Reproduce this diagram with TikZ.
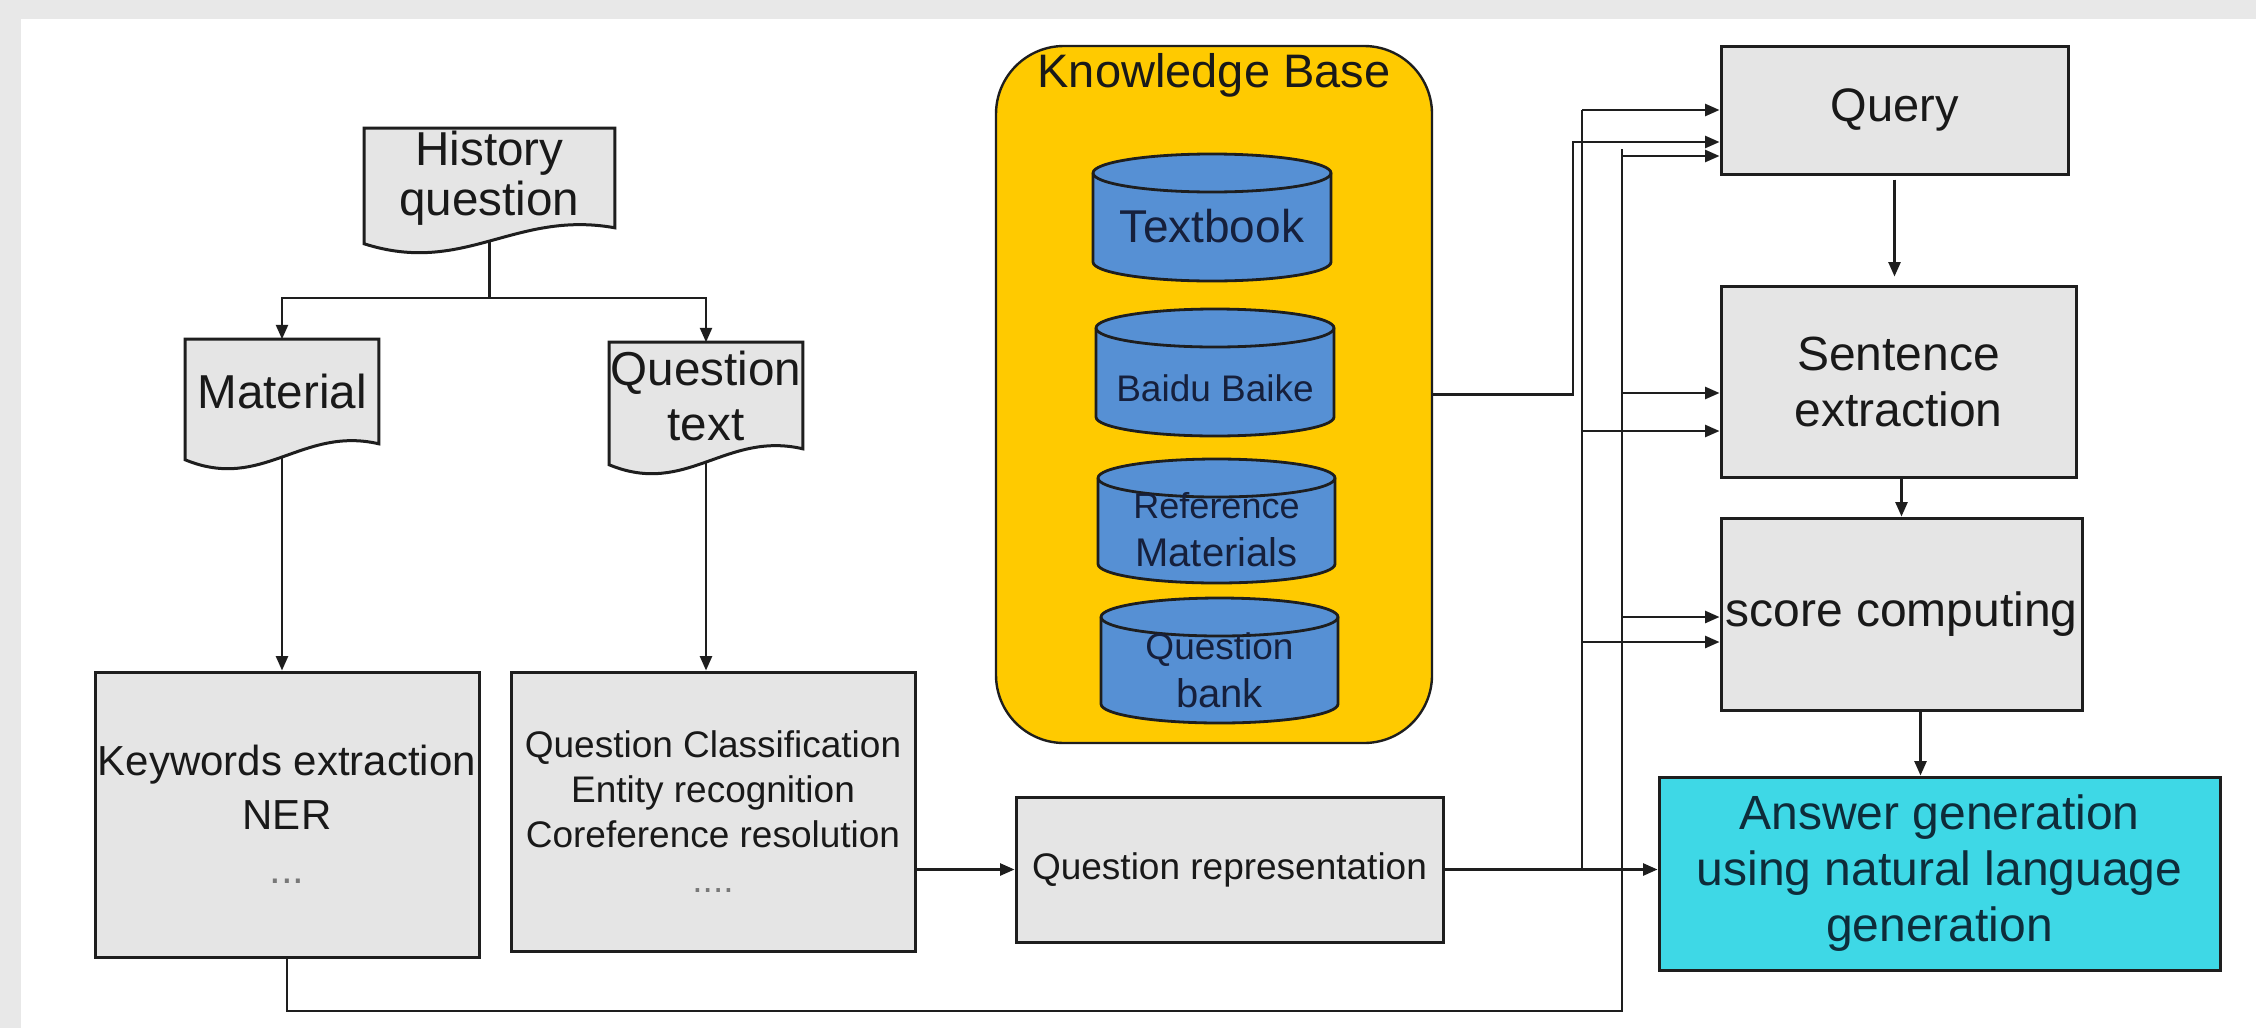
\documentclass[tikz,border=0pt]{standalone}
\usepackage{fontspec}
\setmainfont{Liberation Sans}
\usetikzlibrary{arrows.meta,calc}
\pgfdeclarelayer{paper}
\pgfdeclarelayer{wires}
\pgfdeclarelayer{shapes}
\pgfsetlayers{paper,wires,shapes,main}
\definecolor{band}{RGB}{232,232,232}
\definecolor{boxfill}{RGB}{229,229,229}
\definecolor{boxline}{RGB}{30,30,30}
\definecolor{kbfill}{RGB}{255,202,0}
\definecolor{cylfill}{RGB}{86,144,212}
\definecolor{ansfill}{RGB}{62,216,230}
\definecolor{txt}{RGB}{25,25,25}
\definecolor{cyltxt}{RGB}{22,32,60}
\definecolor{anstxt}{RGB}{14,44,58}
\definecolor{dots}{RGB}{120,120,120}
\newcommand\fsz[2]{\fontsize{#1}{#2}\selectfont}
% document symbol with a wavy bottom edge, drawn behind the text node #1
\newcommand\wavydoc[1]{%
  \begin{pgfonlayer}{shapes}
    \draw[docshape] (#1.north west) -- (#1.north east) -- (#1.south east)
      .. controls ($(#1.south east)!0.4!(#1.south west)+(0,-18)$)
      and ($(#1.south east)!0.6!(#1.south west)+(0,48)$)
      .. ($(#1.south west)+(0,16)$) -- cycle;
  \end{pgfonlayer}}
% database cylinder: name, left x, right x, top y, bottom y, label y, label
\newcommand\dbcyl[7]{%
  \pgfmathsetlengthmacro\cylrx{(#3-#2)*0.125pt}%
  \draw[cylshape] (#2,#4+19) -- (#2,#5-19)
    arc[start angle=180,end angle=360,x radius=\cylrx,y radius=4.75pt]
    -- (#3,#4+19)
    arc[start angle=0,end angle=180,x radius=\cylrx,y radius=4.75pt] -- cycle;
  \draw[cylrim] (#2,#4+19)
    arc[start angle=180,end angle=360,x radius=\cylrx,y radius=4.75pt];
  \node[cyltext] (#1) at ({(#2+#3)/2},#6) {#7};}
\begin{document}
\begin{tikzpicture}[x=0.25pt,y=-0.25pt,
  sz/.style 2 args={minimum width=#1*0.25pt,minimum height=#2*0.25pt,inner sep=0pt},
  procbox/.style={draw=boxline,fill=boxfill,line width=0.75pt,align=center,text=txt},
  doctext/.style={inner sep=0pt,align=center,text=txt},
  docshape/.style={draw=boxline,fill=boxfill,line width=0.75pt},
  cylshape/.style={draw=boxline,fill=cylfill,line width=0.7pt},
  cylrim/.style={draw=boxline,line width=0.7pt},
  cyltext/.style={align=center,text=cyltxt,inner sep=0pt},
  wire/.style={draw=boxline,line width=0.6pt},
  arr/.style={wire,-{Triangle[length=3.6pt,width=3pt]}}]
\useasboundingbox (0,0) rectangle (2256,1028);
\begin{pgfonlayer}{paper}
  \fill[band] (0,0) rectangle (2256,1028);
  \fill[white] (21,19) rectangle (2256,1028);
\end{pgfonlayer}

% question documents
\node[doctext,sz={249}{98},font=\fsz{11.9}{12.5}] (hq) at (489.5,178) {History\\question};
\wavydoc{hq}
\node[doctext,sz={192}{103},font=\fsz{11.9}{13.75}] (mat) at (282,391.5) {Material};
\wavydoc{mat}
\node[doctext,sz={192}{105},font=\fsz{11.9}{13.75}] (qt) at (706,395.5) {Question\\text};
\wavydoc{qt}

% analysis boxes
\node[procbox,sz={384}{285},font=\fsz{10.5}{13.5}] (kw) at (287,814.5)
  {Keywords extraction\\NER\\\textcolor{dots}{...}};
\node[procbox,sz={404}{279},font=\fsz{9.25}{11.25}] (qc) at (713,811.5)
  {Question Classification\\Entity recognition\\Coreference resolution\\\textcolor{dots}{....}};
\node[procbox,sz={427}{145},font=\fsz{9.25}{11.25}] (qr) at (1229.5,869.5) {Question representation};

% knowledge base
\node[draw=boxline,fill=kbfill,line width=0.6pt,rounded corners=17pt,sz={436}{697}] (kb) at (1214,394.5) {};
\node[text=txt,font=\fsz{11.75}{13}] (kbtitle) at (1214,75) {Knowledge Base};
\dbcyl{tb}{1093}{1331}{154}{281}{226}{\fsz{11.5}{13}Textbook}
\dbcyl{bb}{1096}{1334}{309}{436}{388}{\fsz{9.25}{11}Baidu Baike}
\dbcyl{rm}{1098}{1335}{459}{583}{530}{\fsz{9}{11}Reference\\Materials}
\dbcyl{qb}{1101}{1338}{598}{723}{670}{\fsz{9.25}{11.25}Question\\bank}

% answering pipeline
\node[procbox,sz={347}{128},font=\fsz{11.75}{14}] (query) at (1894.5,110) {Query};
\node[procbox,sz={355}{191},font=\fsz{12}{14}] (se) at (1898.5,381.5) {Sentence\\extraction};
\node[procbox,sz={361}{192},font=\fsz{12}{14}] (sc) at (1901.5,614) {score computing};
\node[procbox,fill=ansfill,text=anstxt,sz={561}{193},font=\fsz{12}{14}] (ans) at (1939.5,873.5)
  {Answer generation\\using natural language\\generation};

\begin{pgfonlayer}{wires}
  % left branch
  \coordinate (split) at ($(hq.south)+(0,70)$);
  \draw[wire] (hq.south) -- (split);
  \draw[arr] (split) -| (mat.north);
  \draw[arr] (split) -| (qt.north);
  \draw[arr] (mat.south) -- (mat.south |- kw.north);
  \draw[arr] (qt.south) -- (qt.south |- qc.north);
  \draw[arr] (qc.east |- qr.west) -- (qr.west);
  \draw[arr] (qr.east) -- (qr.east -| ans.west);

  % feed buses into the pipeline
  \coordinate (busA) at (1582,0);
  \coordinate (busB) at (1573,0);
  \coordinate (busC) at (1622,0);
  \coordinate (floor) at (0,1011);
  \coordinate (qB) at ($(query.west)+(0,32)$);
  \coordinate (qC) at ($(query.west)+(0,46)$);
  \coordinate (seC) at ($(se.west)+(0,11.5)$);
  \coordinate (seA) at ($(se.west)+(0,49.5)$);
  \coordinate (scC) at ($(sc.west)+(0,3)$);
  \coordinate (scA) at ($(sc.west)+(0,28)$);

  \draw[wire] (qr.east -| busA) -- (busA |- query.west);
  \draw[arr] (busA |- query.west) -- (query.west);
  \draw[arr] (busA |- seA) -- (seA);
  \draw[arr] (busA |- scA) -- (scA);

  \draw[arr] (kb.east) -| (busB |- qB) -- (qB);

  \draw[wire] (kw.south) |- (floor -| busC) -- ($(busC |- qC)+(0,-7)$);
  \draw[arr] (busC |- qC) -- (qC);
  \draw[arr] (busC |- seC) -- (seC);
  \draw[arr] (busC |- scC) -- (scC);

  % pipeline steps
  \draw[arr] ($(query.south)+(0,4)$) -- ($(query.south |- se.north)+(0,-8)$);
  \draw[arr] ($(se.south)+(3,0)$) -- ($(se.south |- sc.north)+(3,0)$);
  \coordinate (scOut) at ($(sc.south)+(19,0)$);
  \draw[arr] (scOut) -- (scOut |- ans.north);
\end{pgfonlayer}
\end{tikzpicture}
\end{document}
